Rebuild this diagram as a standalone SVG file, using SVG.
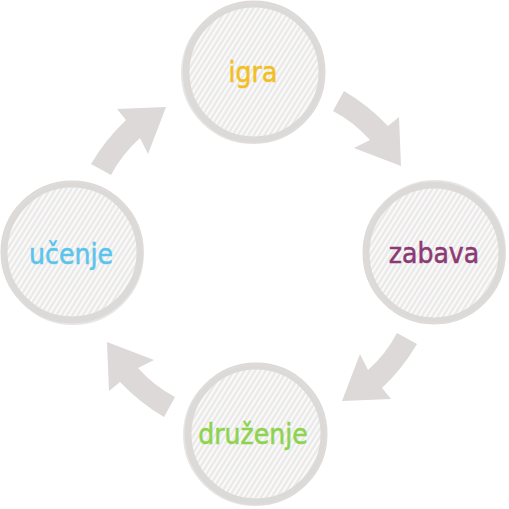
<svg xmlns="http://www.w3.org/2000/svg" width="509" height="509" viewBox="0 0 509 509">
  <defs>
    <pattern id="hatch" patternUnits="userSpaceOnUse" width="4.5" height="4.5" patternTransform="rotate(-58)">
      <rect width="4.5" height="4.5" fill="#eae9e8"/>
      <rect width="4.5" height="2.2" fill="#fafafa"/>
    </pattern>
    <path id="arrow" d="M344,91 Q368,105 388,126 L399,117 L401,166 L354,148 L370,140 Q354,122 333,111 Z"/>
  </defs>
  <style>
    .node circle { fill: url(#hatch); stroke: #dcdad8; stroke-width: 7; }
    .node .sketch { fill: none; stroke: #dedbda; stroke-width: 2; opacity: 0.7; }
    .label { font-family: "DejaVu Sans Condensed", "DejaVu Sans", sans-serif; font-size: 28px; text-anchor: middle; stroke-width: 0.5; }
    .conn use { fill: #dcd9d8; }
  </style>
  <g id="connectors" class="conn">
    <use href="#arrow"/>
    <use href="#arrow" transform="rotate(90 254 254)"/>
    <use href="#arrow" transform="rotate(180 254 254)"/>
    <use href="#arrow" transform="rotate(270 254 254)"/>
  </g>
  <g id="node-igra" class="node">
    <circle cx="254" cy="72" r="68"/>
    <ellipse class="sketch" cx="253" cy="73" rx="71" ry="70"/>
    <text class="label" x="253" y="82" fill="#f2c01e" stroke="#f2c01e">igra</text>
  </g>
  <g id="node-zabava" class="node">
    <circle cx="434" cy="253" r="68"/>
    <ellipse class="sketch" cx="435" cy="252" rx="70" ry="71"/>
    <text class="label" x="434" y="263" fill="#8c3a74" stroke="#8c3a74">zabava</text>
  </g>
  <g id="node-druzenje" class="node">
    <circle cx="256" cy="434" r="68"/>
    <ellipse class="sketch" cx="255" cy="435" rx="71" ry="70"/>
    <text class="label" x="253" y="444" fill="#8ed34e" stroke="#8ed34e">druženje</text>
  </g>
  <g id="node-ucenje" class="node">
    <circle cx="72" cy="252" r="68"/>
    <ellipse class="sketch" cx="73" cy="253" rx="70" ry="71"/>
    <text class="label" x="71" y="264" fill="#5bc4ec" stroke="#5bc4ec">učenje</text>
  </g>
</svg>
